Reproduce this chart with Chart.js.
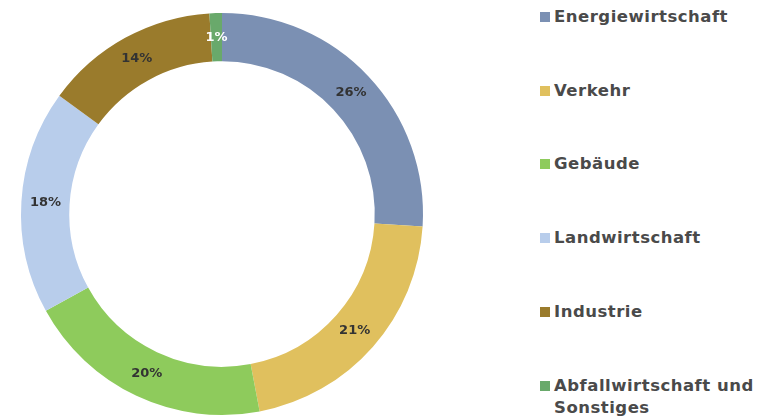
<!DOCTYPE html>
<html lang="de">
<head>
<meta charset="UTF-8">
<title>Emissionen nach Sektoren</title>
<script src="https://cdn.jsdelivr.net/npm/chart.js@4.4.1/dist/chart.umd.min.js"></script>
<style>
    body { margin: 0; background: #fff; }
    #wrap { position: relative; width: 758px; height: 419px; }
    #chartBox { position: absolute; left: 0; top: 0; width: 444px; height: 419px; }
    #legend { position: absolute; left: 540px; top: 0; font-family: "DejaVu Sans", sans-serif; font-weight: 700; font-size: 16.5px; letter-spacing: 0.5px; color: #4a4a4a; }
    .item { position: absolute; left: 0; white-space: nowrap; line-height: 22px; }
    .box { position: absolute; left: 0; top: 6px; width: 10px; height: 10px; }
    .txt { position: absolute; left: 14px; top: 0; }
</style>
</head>
<body>
<div id="wrap">
    <div id="chartBox"><canvas id="myChart"></canvas></div>
    <div id="legend"></div>
</div>
<script>
// Anteile der Sektoren (Prozent)
const sektoren = ['Energiewirtschaft', 'Verkehr', 'Gebäude', 'Landwirtschaft', 'Industrie', 'Abfallwirtschaft und Sonstiges'];
const anteile = [26, 21, 20, 18, 14, 1];
const farben = ['#7b90b3', '#e0c05e', '#8ecb5c', '#b8cdeb', '#9a7b2c', '#69a96b'];
const labelFarben = ['#333', '#333', '#333', '#333', '#333', '#fff'];

// Prozentzahlen auf dem Ring
const ringLabels = {
    id: 'ringLabels',
    afterDatasetsDraw(chart) {
        const ctx = chart.ctx;
        const meta = chart.getDatasetMeta(0);
        ctx.save();
        ctx.font = 'bold 13px "DejaVu Sans", sans-serif';
        ctx.textAlign = 'center';
        ctx.textBaseline = 'middle';
        meta.data.forEach(function(arc, i) {
            const p = arc.tooltipPosition();
            ctx.fillStyle = labelFarben[i];
            ctx.fillText(anteile[i] + '%', p.x, p.y);
        });
        ctx.restore();
    }
};

const ctx = document.getElementById('myChart').getContext('2d');
const myChart = new Chart(ctx, {
    type: 'doughnut',
    data: {
        labels: sektoren,
        datasets: [{
            data: anteile,
            backgroundColor: farben,
            borderWidth: 0
        }]
    },
    options: {
        responsive: true,
        maintainAspectRatio: false,
        animation: false,
        cutout: '76%',
        layout: { padding: { left: 21, right: 21, top: 13, bottom: 4 } },
        plugins: {
            legend: { display: false },
            tooltip: { enabled: false }
        }
    },
    plugins: [ringLabels]
});

// Legende rechts
var legendTops = [6, 80, 153, 227, 301, 375];
var legend = document.getElementById('legend');
sektoren.forEach(function(name, i) {
    var item = document.createElement('div');
    item.className = 'item';
    item.style.top = legendTops[i] + 'px';
    var txt = name === 'Abfallwirtschaft und Sonstiges' ? 'Abfallwirtschaft und<br>Sonstiges' : name;
    item.innerHTML = '<span class="box" style="background:' + farben[i] + '"></span><span class="txt">' + txt + '</span>';
    legend.appendChild(item);
});
</script>
</body>
</html>
